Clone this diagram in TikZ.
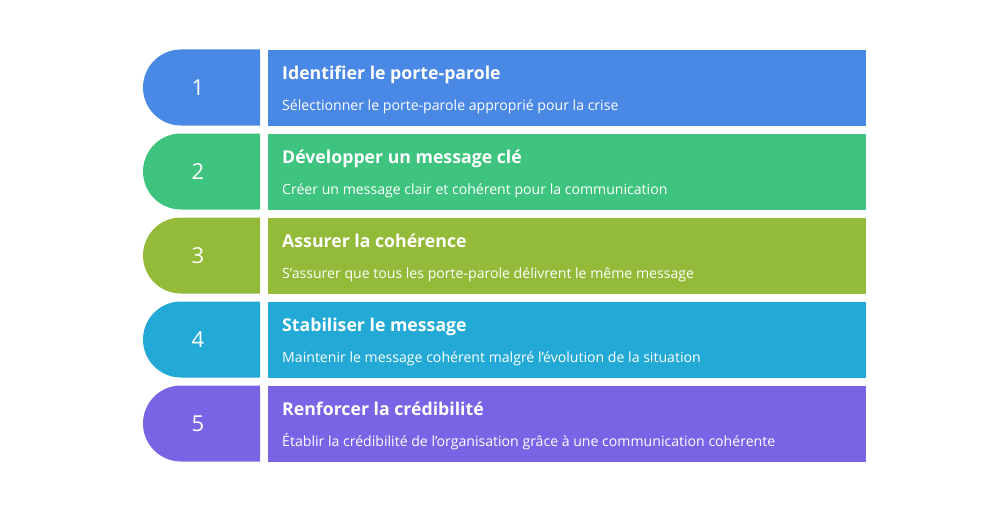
\documentclass[tikz,border=0pt]{standalone}
\usepackage{fontspec}
\setmainfont{Open Sans}
\definecolor{cA}{HTML}{4A88E5}
\definecolor{cB}{HTML}{3EC47F}
\definecolor{cC}{HTML}{94BA3A}
\definecolor{cD}{HTML}{22A9D6}
\definecolor{cE}{HTML}{7B63E6}
\tikzset{
  numtxt/.style={text=white,font=\fontsize{22}{24}\selectfont,inner sep=0pt},
  ttl/.style={text=white,font=\fontsize{17.7}{20}\selectfont\bfseries,anchor=base west,inner sep=0pt},
  sub/.style={text=white,font=\fontsize{14.1}{16}\selectfont,anchor=base west,inner sep=0pt},
  card/.style={anchor=north west,minimum width=598pt,minimum height=76pt,inner sep=0pt,draw=none},
}
\begin{document}
\begin{tikzpicture}[x=1pt,y=-1pt]
\useasboundingbox (0,0) rectangle (1008,511);
\foreach \i/\col/\n/\t/\s in {
 1/cA/1/Identifier le porte-parole/Sélectionner le porte-parole approprié pour la crise,
 2/cB/2/Développer un message clé/Créer un message clair et cohérent pour la communication,
 3/cC/3/Assurer la cohérence/S\char39assurer que tous les porte-parole délivrent le même message,
 4/cD/4/Stabiliser le message/Maintenir le message cohérent malgré l\char39évolution de la situation,
 5/cE/5/Renforcer la crédibilité/Établir la crédibilité de l\char39organisation grâce à une communication cohérente}{
  \pgfmathsetmacro{\tp}{49.5+84*(\i-1)}
  \fill[\col] (260,\tp) -- (181,\tp) arc[start angle=270,end angle=90,radius=38] -- (260,\tp+76) -- cycle;
  \node[numtxt] (num\i) at (198,\tp+38) {\n};
  \node[card,fill=\col] (card\i) at (268,\tp) {};
  \node[ttl] (title\i) at (282,\tp+30) {\t};
  \node[sub] (desc\i) at (282,\tp+60.5) {\s};
}
\end{tikzpicture}
\end{document}
